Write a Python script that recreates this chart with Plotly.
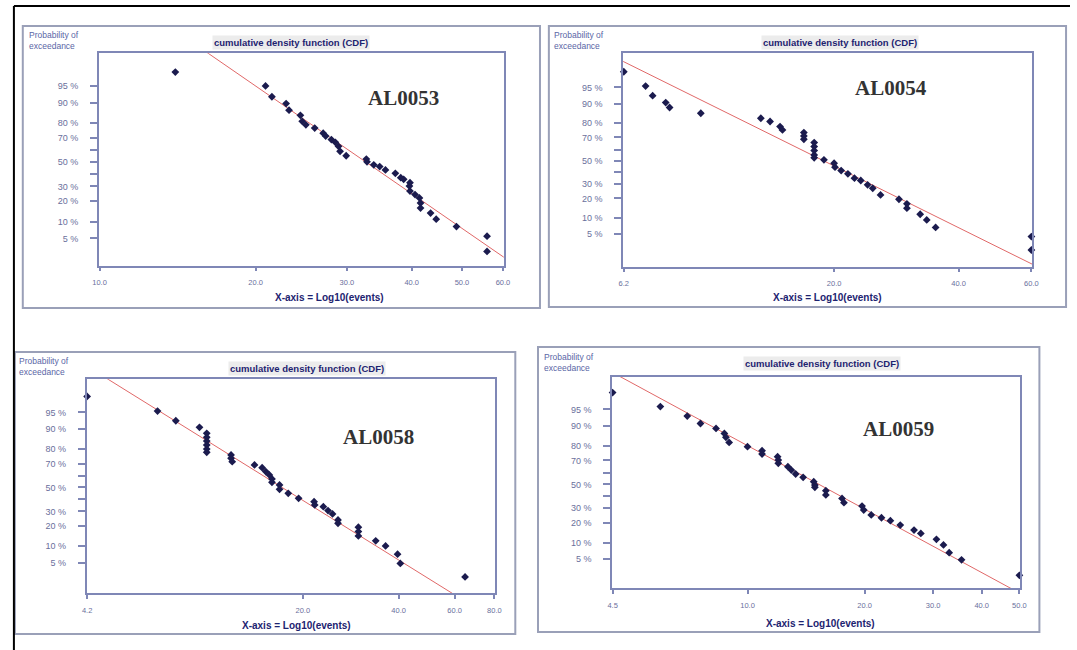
import math
from statistics import NormalDist
import plotly.graph_objects as go

# ---------------- data ----------------
# exceedance probability (%) versus number of events, four stations
al0053_events = [14.0, 20.9, 21.5, 22.9, 23.2, 24.4, 24.6, 25.0, 26.0, 27.0, 27.3, 28.0,
                 28.5, 28.9, 29.1, 29.9, 32.7, 32.8, 33.8, 34.7, 35.6, 37.2, 38.1, 38.6,
                 39.7, 39.6, 39.7, 40.6, 41.4, 41.6, 41.6, 43.5, 44.6, 48.8, 55.9, 55.9]
al0053_exceed = [97.4, 95.0, 92.1, 89.7, 86.9, 84.4, 81.1, 79.0, 76.9, 73.4, 71.3, 68.7,
                 66.6, 63.4, 59.2, 55.5, 52.6, 50.3, 47.7, 46.2, 43.3, 40.5, 36.9, 35.5,
                 32.9, 30.3, 26.6, 24.2, 22.0, 18.9, 16.1, 13.6, 10.9, 8.2, 5.5, 2.7]
al0053_fit_events = [16.2, 60.0]
al0053_fit_exceed = [99.06, 2.07]

al0054_events = [6.2, 7.0, 7.28, 7.83, 8.0, 9.52, 13.3, 14.0, 14.8, 15.0, 16.9, 16.9,
                 16.9, 17.9, 17.9, 17.9, 17.9, 17.9, 18.9, 20.0, 20.1, 20.8, 21.6, 22.4,
                 23.2, 24.1, 24.8, 25.9, 28.7, 30.0, 30.0, 32.3, 33.5, 35.2, 60.0, 60.0]
al0054_exceed = [97.7, 95.3, 92.8, 90.4, 88.4, 85.7, 83.0, 81.1, 77.9, 75.6, 73.7, 71.2,
                 68.6, 65.9, 62.6, 59.1, 55.3, 52.7, 50.9, 47.9, 44.4, 41.4, 38.6, 34.9,
                 33.0, 29.6, 27.0, 22.3, 19.5, 16.8, 14.5, 11.6, 9.3, 6.8, 4.5, 2.3]
al0054_fit_events = [6.27, 59.6]
al0054_fit_exceed = [98.6, 1.1]

al0058_events = [4.2, 6.99, 7.98, 9.47, 9.98, 9.98, 9.98, 9.98, 9.98, 9.98, 11.9, 11.9,
                 12.0, 14.1, 14.9, 15.3, 15.7, 16.0, 16.0, 16.9, 16.9, 18.0, 19.4, 21.7,
                 21.8, 23.2, 24.0, 24.8, 25.8, 25.8, 29.9, 29.9, 29.9, 33.9, 36.4, 39.7,
                 40.5, 64.7]
al0058_exceed = [97.7, 95.3, 92.8, 90.6, 88.2, 86.4, 84.5, 82.4, 80.0, 77.9, 76.2, 73.9,
                 71.4, 68.9, 66.8, 63.6, 60.8, 57.4, 54.5, 52.2, 48.4, 44.9, 40.6, 37.8,
                 35.1, 33.7, 30.6, 28.1, 23.8, 21.6, 19.2, 16.7, 14.4, 12.1, 10.0, 7.2,
                 4.8, 2.5]
al0058_fit_events = [4.9, 59.2]
al0058_fit_exceed = [99.1, 1.0]

al0059_events = [4.5, 5.97, 7.0, 7.57, 8.3, 8.72, 8.8, 8.97, 10.0, 10.9, 10.9, 11.95,
                 12.0, 12.0, 12.7, 12.96, 13.3, 13.9, 14.8, 14.9, 14.9, 15.9, 15.9, 17.5,
                 17.7, 19.7, 19.9, 20.8, 22.1, 23.3, 24.7, 26.8, 27.9, 30.6, 31.9, 33.0,
                 35.5, 50.0]
al0059_exceed = [97.8, 95.6, 93.3, 90.9, 89.0, 86.8, 84.9, 82.1, 79.6, 77.0, 74.7, 72.8,
                 70.3, 67.8, 65.1, 62.3, 59.0, 56.1, 52.3, 49.4, 47.4, 44.5, 40.8, 37.9,
                 34.4, 31.7, 28.7, 25.1, 23.2, 21.3, 18.6, 15.8, 14.1, 11.4, 9.2, 6.7,
                 4.9, 2.3]
al0059_fit_events = [4.6, 47.5]
al0059_fit_exceed = [99.2, 1.13]

station_names = ["AL0053", "AL0054", "AL0058", "AL0059"]

y_tick_probs = [95, 90, 80, 70, 60, 50, 40, 30, 20, 10, 5]
y_tick_text = ["95 %", "90 %", "80 %", "70 %", "", "50 %", "", "30 %", "20 %", "10 %", "5 %"]

al0053_xticks = [10, 20, 30, 40, 50, 60]
al0054_xticks = [6.2, 20, 40, 60]
al0058_xticks = [4.2, 20, 40, 60, 80]
al0059_xticks = [4.5, 10, 20, 30, 40, 50]

al0053_xrange = [10, 60]
al0054_xrange = [6.2, 60]
al0058_xrange = [4.2, 80]
al0059_xrange = [4.5, 50]

# exceedance limits of the probability axis (in %)
al0053_prange = [1.27, 99.06]
al0054_prange = [0.89, 99.2]
al0058_prange = [1.02, 99.11]
al0059_prange = [1.13, 99.09]

# ---------------- helpers ----------------
W, H = 1077, 650
nd = NormalDist()


def zq(p):
    return nd.inv_cdf(p / 100.0)


def fx(x):
    return x / W


def fy(y):
    return 1 - y / H


FRAME = "#7f87b6"
TICKC = "#6a6f9c"
NAVY = "#1d2370"
LABELC = "#5a66a6"
MARK = "#1b1b4e"
RED = "#e06868"

# layout boxes (pixels): plot area, outer panel frame, text positions
panels = [
    dict(ev=al0053_events, ex=al0053_exceed, fe=al0053_fit_events, fp=al0053_fit_exceed,
         xt=al0053_xticks, xr=al0053_xrange, pr=al0053_prange, name=station_names[0],
         plot=(93, 53.3, 503.3, 265.7), frame=(16, 26, 540, 308),
         ylab=(20, 35), title=(288, 42), code=(402, 98), xtitle=(327, 297)),
    dict(ev=al0054_events, ex=al0054_exceed, fe=al0054_fit_events, fp=al0054_fit_exceed,
         xt=al0054_xticks, xr=al0054_xrange, pr=al0054_prange, name=station_names[1],
         plot=(624.3, 53.3, 1038.5, 266.7), frame=(549, 26, 1073, 307),
         ylab=(552, 35), title=(844, 42), code=(896, 88), xtitle=(831, 297)),
    dict(ev=al0058_events, ex=al0058_exceed, fe=al0058_fit_events, fp=al0058_fit_exceed,
         xt=al0058_xticks, xr=al0058_xrange, pr=al0058_prange, name=station_names[2],
         plot=(80.7, 379.3, 494.3, 593.3), frame=(8, 352, 515, 634),
         ylab=(10, 361), title=(304, 368), code=(376, 437), xtitle=(293, 625)),
    dict(ev=al0059_events, ex=al0059_exceed, fe=al0059_fit_events, fp=al0059_fit_exceed,
         xt=al0059_xticks, xr=al0059_xrange, pr=al0059_prange, name=station_names[3],
         plot=(613, 376.7, 1026.3, 588.3), frame=(538, 347, 1046, 632),
         ylab=(542, 357), title=(826, 363), code=(903, 429), xtitle=(824.5, 623)),
]

fig = go.Figure()
layout = dict(
    width=W, height=H, margin=dict(l=0, r=0, t=0, b=0),
    paper_bgcolor="white", plot_bgcolor="white", showlegend=False,
    font=dict(family="Liberation Sans, Arial, sans-serif"),
)
shapes = []
annotations = []

for i, p in enumerate(panels, start=1):
    xa = "x" if i == 1 else f"x{i}"
    ya = "y" if i == 1 else f"y{i}"
    xkey = "xaxis" if i == 1 else f"xaxis{i}"
    ykey = "yaxis" if i == 1 else f"yaxis{i}"
    x0, y0, x1, y1 = p["plot"]

    # fitted line, extended across the x range (clipped to the plot area)
    lx = [math.log10(v) for v in p["fe"]]
    lz = [zq(v) for v in p["fp"]]
    slope = (lz[1] - lz[0]) / (lx[1] - lx[0])
    xs = [p["xr"][0] * 0.9, p["xr"][1] * 1.1]
    zs = [lz[0] + slope * (math.log10(v) - lx[0]) for v in xs]
    fig.add_trace(go.Scatter(x=xs, y=zs, mode="lines", xaxis=xa, yaxis=ya,
                             line=dict(color=RED, width=1), hoverinfo="skip"))

    fig.add_trace(go.Scatter(
        x=p["ev"], y=[zq(v) for v in p["ex"]], mode="markers", xaxis=xa, yaxis=ya,
        marker=dict(symbol="diamond", size=6, color=MARK), cliponaxis=False,
        name=p["name"]))

    layout[xkey] = dict(
        type="log", domain=[fx(x0), fx(x1)], anchor=ya,
        range=[math.log10(p["xr"][0]) - 0.0015, math.log10(p["xr"][1]) + 0.0015],
        tickvals=p["xt"], ticktext=[f"{v:.1f}" for v in p["xt"]],
        ticks="outside", ticklen=4, tickcolor=FRAME, tickwidth=1.5,
        showline=True, linecolor=FRAME, linewidth=1.5, mirror=True,
        showgrid=False, zeroline=False, ticklabelstandoff=5,
        tickfont=dict(size=7.5, color=TICKC),
    )
    layout[ykey] = dict(
        domain=[fy(y1), fy(y0)], anchor=xa,
        range=[zq(p["pr"][0]), zq(p["pr"][1])],
        tickvals=[zq(v) for v in y_tick_probs], ticktext=y_tick_text,
        ticks="outside", ticklen=7, tickcolor=FRAME, tickwidth=1.5,
        showline=True, linecolor=FRAME, linewidth=1.5, mirror=True,
        showgrid=False, zeroline=False, ticklabelstandoff=10,
        tickfont=dict(size=9, color=TICKC),
    )

    fx0, fy0, fx1, fy1 = p["frame"]
    shapes.append(dict(type="rect", xref="paper", yref="paper",
                       x0=fx(fx0), x1=fx(fx1), y0=fy(fy1), y1=fy(fy0),
                       line=dict(color="#9aa0b8", width=2), layer="below"))

    annotations.append(dict(xref="paper", yref="paper", x=fx(p["ylab"][0]), y=fy(p["ylab"][1] - 7),
                            xanchor="left", yanchor="top", showarrow=False, align="left",
                            text="Probability of<br>exceedance",
                            font=dict(size=8.5, color=LABELC)))
    annotations.append(dict(xref="paper", yref="paper", x=fx(p["title"][0]), y=fy(p["title"][1]),
                            xanchor="center", yanchor="middle", showarrow=False,
                            text="<b>cumulative density function (CDF)</b>", bgcolor="#ececec",
                            borderpad=1, font=dict(size=9.5, color=NAVY)))
    annotations.append(dict(xref="paper", yref="paper", x=fx(p["code"][0]), y=fy(p["code"][1]),
                            xanchor="center", yanchor="middle", showarrow=False,
                            text=f"<b>{p['name']}</b>",
                            font=dict(size=21, color="#333333",
                                      family="Liberation Serif, Times New Roman, serif")))
    annotations.append(dict(xref="paper", yref="paper", x=fx(p["xtitle"][0]), y=fy(p["xtitle"][1]),
                            xanchor="center", yanchor="middle", showarrow=False,
                            text="<b>X-axis = Log10(events)</b>",
                            font=dict(size=10, color=NAVY)))

# outer black border of the page
shapes.append(dict(type="line", xref="paper", yref="paper", x0=fx(7), x1=1, y0=fy(6), y1=fy(6),
                   line=dict(color="black", width=2)))
shapes.append(dict(type="line", xref="paper", yref="paper", x0=fx(7), x1=fx(7), y0=fy(6), y1=0,
                   line=dict(color="black", width=2)))

layout["shapes"] = shapes
layout["annotations"] = annotations
fig.update_layout(**layout)
fig.write_html(
    "out.html",
    config={"displayModeBar": False},
    post_script=("document.documentElement.style.overflow='hidden';"
                 "document.body.style.margin='0';document.body.style.overflow='hidden';"),
)
